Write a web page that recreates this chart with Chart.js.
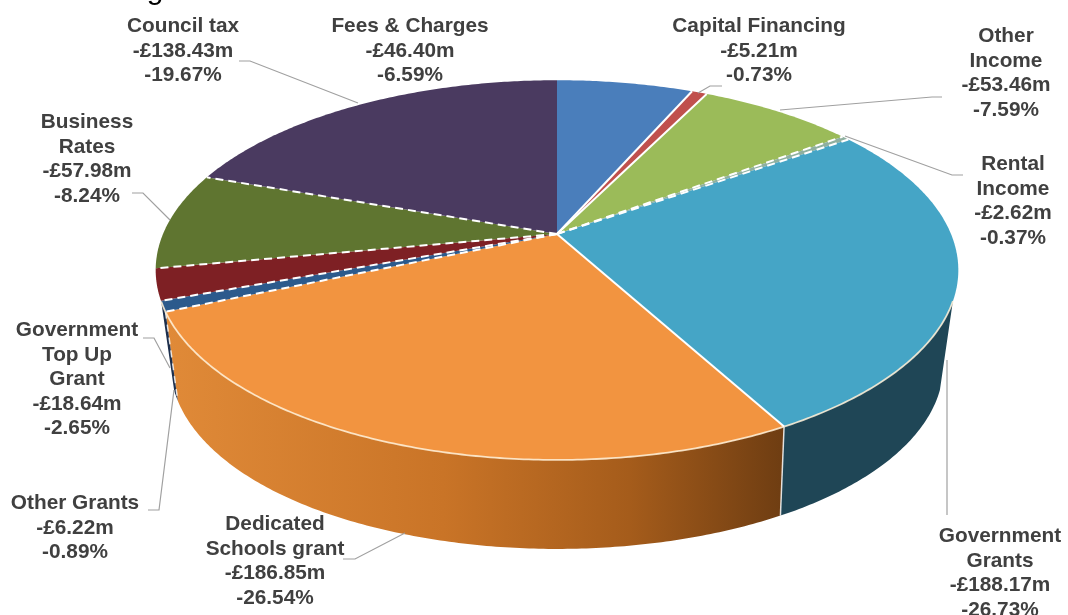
<!DOCTYPE html>
<html>
<head>
<meta charset="utf-8">
<title>Income by source</title>
<script src="https://cdn.jsdelivr.net/npm/chart.js@4/dist/chart.umd.js"></script>
<style>
  html, body { margin: 0; padding: 0; background: #fff; }
  #wrap { width: 1068px; height: 615px; }
</style>
</head>
<body>
<div id="wrap"><canvas id="chart"></canvas></div>
<script>
// clockwise from 12 o'clock
const categories = ['Fees & Charges', 'Capital Financing', 'Other Income', 'Rental Income', 'Government Grants',
  'Dedicated Schools grant', 'Other Grants', 'Government Top Up Grant', 'Business Rates', 'Council tax'];
const amounts = [-46.40, -5.21, -53.46, -2.62, -188.17, -186.85, -6.22, -18.64, -57.98, -138.43];
const percents = [-6.59, -0.73, -7.59, -0.37, -26.73, -26.54, -0.89, -2.65, -8.24, -19.67];

const topColors = ['#4a7ebb', '#c0504d', '#9bbb59', '#8fb0a0', '#45a5c6', '#f29440', '#2c5a8c', '#7e2024', '#5f7530', '#4a3a60'];
const wallColors = ['#2c4d75', '#772c2a', '#5f7530', '#4d3b62', '#1f4656', null, '#1d2f4c', '#4a1b1a', '#3c4a1e', '#31263f'];

// where the pie sits on the page, and how it is tilted
const centerX = 557, centerY = 234, radiusX = 394, radiusY = 183, tilt = 0.19;
const wallHeight = 89;
const rimStart = 0.35, rimEnd = 2.79;

function project(angle, r) {
  // angle as Chart.js has it: -PI/2 is 12 o'clock
  const u = Math.cos(angle) * r, v = Math.sin(angle) * r;
  const w = 1 - tilt * v;
  return [centerX + radiusX * u / w, centerY + radiusY * v / w];
}

function lower(p) {
  // the underside is a little narrower, more so towards the back
  const shrink = 0.967 + 0.017 * Math.max(0, Math.min(1, (p[1] - 300) / 124));
  return [centerX + (p[0] - centerX) * shrink, p[1] + wallHeight];
}

function arcPoints(a0, a1) {
  const n = Math.max(2, Math.ceil((a1 - a0) / 0.01));
  const pts = [];
  for (let i = 0; i <= n; i++) pts.push(project(a0 + (a1 - a0) * i / n, 1));
  return pts;
}

class TiltedArc extends Chart.ArcElement {
  draw(ctx) {
    const { startAngle, endAngle } = this;
    const pts = arcPoints(startAngle, endAngle);
    ctx.save();
    ctx.beginPath();
    ctx.moveTo(centerX, centerY);
    pts.forEach(p => ctx.lineTo(p[0], p[1]));
    ctx.closePath();
    ctx.fillStyle = this.options.backgroundColor;
    ctx.fill();
    ctx.restore();
  }
}
TiltedArc.id = 'tiltedArc';
TiltedArc.defaults = Chart.ArcElement.defaults;

class Pie3dController extends Chart.PieController {
  draw() {
    const ctx = this.chart.ctx;
    const arcs = this._cachedMeta.data;
    // walls first, only the part of the rim facing the viewer
    arcs.forEach((arc, i) => {
      const a0 = Math.max(arc.startAngle, rimStart);
      const a1 = Math.min(arc.endAngle, rimEnd);
      if (a1 <= a0) return;
      const front = arcPoints(a0, a1);
      ctx.beginPath();
      front.forEach((p, k) => k ? ctx.lineTo(p[0], p[1]) : ctx.moveTo(p[0], p[1]));
      front.slice().reverse().forEach(p => { const q = lower(p); ctx.lineTo(q[0], q[1]); });
      ctx.closePath();
      if (wallColors[i]) {
        ctx.fillStyle = wallColors[i];
      } else {
        const g = ctx.createLinearGradient(front[front.length - 1][0], 0, front[0][0], 0);
        g.addColorStop(0, '#e08a38');
        g.addColorStop(0.45, '#c97427');
        g.addColorStop(0.75, '#a55c1b');
        g.addColorStop(1, '#6e3d12');
        ctx.fillStyle = g;
      }
      ctx.fill();
      // pale seam down the wall where the slice ends, broken on the thin left strip
      if (arc.startAngle >= rimStart) {
        ctx.save();
        ctx.strokeStyle = 'rgba(255,255,255,0.8)';
        ctx.lineWidth = 1.5;
        if (i !== 5 && arc.startAngle > Math.PI / 2) ctx.setLineDash([7, 6]);
        ctx.beginPath();
        ctx.moveTo(front[0][0], front[0][1]);
        const q = lower(front[0]);
        ctx.lineTo(q[0], q[1]);
        ctx.stroke();
        ctx.restore();
      }
    });
    // then the top face
    super.draw();
    // pale rim along the front
    arcs.forEach(arc => {
      const a0 = Math.max(arc.startAngle, rimStart), a1 = Math.min(arc.endAngle, rimEnd);
      if (a1 <= a0) return;
      const front = arcPoints(a0, a1);
      ctx.beginPath();
      front.forEach((p, k) => k ? ctx.lineTo(p[0], p[1]) : ctx.moveTo(p[0], p[1]));
      ctx.strokeStyle = 'rgba(255,240,215,0.85)';
      ctx.lineWidth = 1.8;
      ctx.stroke();
    });
    // slice edges, dashed where the reference breaks up
    const dashedFrom = [3, 4, 6, 7, 8, 9];
    arcs.forEach((arc, i) => {
      if (i === 0) return;
      const p = project(arc.startAngle, 1);
      ctx.save();
      ctx.beginPath();
      ctx.moveTo(centerX, centerY);
      ctx.lineTo(p[0], p[1]);
      ctx.strokeStyle = '#fff';
      ctx.lineWidth = 2;
      if (dashedFrom.includes(i)) ctx.setLineDash([8, 5]);
      ctx.stroke();
      ctx.restore();
    });
  }
}
Pie3dController.id = 'pie3d';
Pie3dController.defaults = { ...Chart.PieController.defaults, dataElementType: 'tiltedArc' };
Pie3dController.overrides = Chart.PieController.overrides;

Chart.register(TiltedArc, Pie3dController);

// label placement: centre x, first baseline, wrapped name, then leader line
const labelLayout = [
  { x: 410, y: 32, name: ['Fees & Charges'], line: null },
  { x: 759, y: 32, name: ['Capital Financing'], line: [[722, 86], [710, 86], [698, 93]] },
  { x: 1006, y: 42, name: ['Other', 'Income'], line: [[942, 97], [932, 97], [780, 110]] },
  { x: 1013, y: 170, name: ['Rental', 'Income'], line: [[963, 175], [952, 175], [845, 136]] },
  { x: 1000, y: 542, name: ['Government', 'Grants'], line: [[947, 515], [947, 360]] },
  { x: 275, y: 530, name: ['Dedicated', 'Schools grant'], line: [[343, 559], [355, 559], [405, 533]] },
  { x: 75, y: 509, name: ['Other Grants'], line: [[148, 510], [159, 510], [174, 390]] },
  { x: 77, y: 336, name: ['Government', 'Top Up', 'Grant'], line: [[143, 338], [154, 338], [170, 368]] },
  { x: 87, y: 128, name: ['Business', 'Rates'], line: [[132, 193], [143, 193], [170, 220]] },
  { x: 183, y: 32, name: ['Council tax'], line: [[239, 61], [250, 61], [358, 103]] }
];

const labelsPlugin = {
  id: 'sliceLabels',
  afterDraw(chart) {
    const ctx = chart.ctx;
    ctx.save();
    ctx.textAlign = 'center';
    // only the tail of the cropped page title shows above the chart
    ctx.font = '30px "Liberation Sans", Arial, sans-serif';
    ctx.fillStyle = '#000';
    ctx.fillText('g', 155, -1.5);
    labelLayout.forEach((l, i) => {
      if (l.line) {
        ctx.beginPath();
        l.line.forEach((p, k) => k ? ctx.lineTo(p[0], p[1]) : ctx.moveTo(p[0], p[1]));
        ctx.strokeStyle = '#a0a0a0';
        ctx.lineWidth = 1.2;
        ctx.stroke();
      }
      const rows = [...l.name,
        '-£' + Math.abs(amounts[i]).toFixed(2) + 'm',
        percents[i].toFixed(2) + '%'];
      ctx.font = 'bold 20.8px "Liberation Sans", Arial, sans-serif';
      ctx.fillStyle = '#404040';
      rows.forEach((t, k) => ctx.fillText(t, l.x, l.y + k * 24.5));
    });
    ctx.restore();
  }
};

new Chart(document.getElementById('chart'), {
  type: 'pie3d',
  data: {
    labels: categories,
    datasets: [{ data: amounts, backgroundColor: topColors, borderWidth: 0 }]
  },
  options: {
    responsive: true,
    maintainAspectRatio: false,
    animation: false,
    plugins: { legend: { display: false }, tooltip: { enabled: false } }
  },
  plugins: [labelsPlugin]
});
</script>
</body>
</html>
